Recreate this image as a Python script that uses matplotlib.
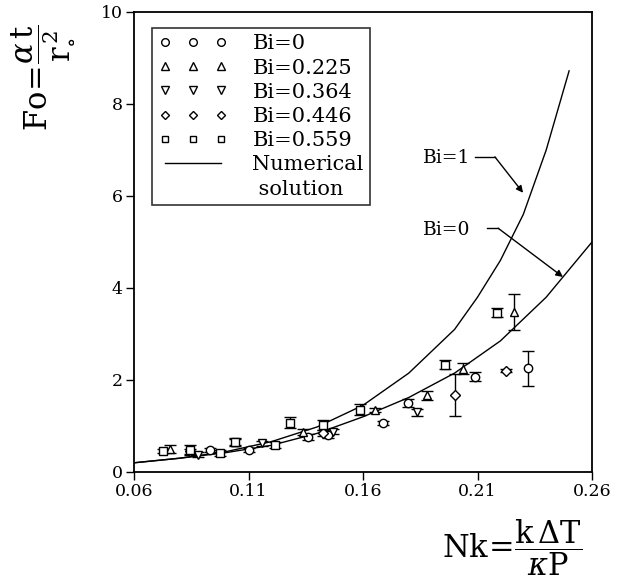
import matplotlib
matplotlib.use("Agg")
import matplotlib.pyplot as plt
from matplotlib.lines import Line2D

plt.rcParams['font.family'] = ['DejaVu Serif']
plt.rcParams['mathtext.fontset'] = 'dejavuserif'

# ---- data ----
bi0_x = [0.0932, 0.110, 0.136, 0.1447, 0.1687, 0.1797, 0.209, 0.232]
bi0_y = [0.48, 0.48, 0.76, 0.80, 1.07, 1.50, 2.07, 2.26]
bi0_e = [0.05, 0.05, 0.06, 0.06, 0.04, 0.08, 0.10, 0.38]

bi225_x = [0.0757, 0.104, 0.1338, 0.1652, 0.188, 0.2037, 0.226]
bi225_y = [0.50, 0.65, 0.87, 1.35, 1.67, 2.24, 3.48]
bi225_e = [0.08, 0.06, 0.06, 0.05, 0.10, 0.12, 0.40]

bi364_x = [0.088, 0.116, 0.147, 0.1836]
bi364_y = [0.38, 0.62, 0.88, 1.30]
bi364_e = [0.06, 0.06, 0.05, 0.08]

bi446_x = [0.0845, 0.1425, 0.2002, 0.2224]
bi446_y = [0.45, 0.85, 1.67, 2.20]
bi446_e = [0.05, 0.06, 0.45, 0.03]

bi559_x = [0.0727, 0.0845, 0.0976, 0.104, 0.1216, 0.128, 0.1425, 0.1587, 0.1958, 0.2185]
bi559_y = [0.46, 0.48, 0.41, 0.65, 0.59, 1.07, 1.02, 1.35, 2.33, 3.46]
bi559_e = [0.05, 0.10, 0.07, 0.08, 0.07, 0.12, 0.10, 0.12, 0.10, 0.10]

num_bi1_x = [0.06, 0.08, 0.10, 0.12, 0.14, 0.16, 0.18, 0.20, 0.21, 0.22, 0.23, 0.24, 0.25]
num_bi1_y = [0.20, 0.30, 0.44, 0.66, 0.98, 1.45, 2.15, 3.10, 3.80, 4.60, 5.60, 7.00, 8.72]

num_bi0_x = [0.06, 0.08, 0.10, 0.12, 0.14, 0.16, 0.18, 0.20, 0.22, 0.24, 0.26]
num_bi0_y = [0.20, 0.30, 0.42, 0.58, 0.84, 1.20, 1.62, 2.15, 2.85, 3.80, 5.00]

series_labels = ['Bi=0', 'Bi=0.225', 'Bi=0.364', 'Bi=0.446', 'Bi=0.559']
x_ticks = [0.06, 0.11, 0.16, 0.21, 0.26]
y_ticks = [0, 2, 4, 6, 8, 10]

fig = plt.figure(figsize=(6.33, 5.86), dpi=100)
ax = fig.add_axes([134/633, 1-472/586, (592-134)/633, (472-12)/586])

series = [
    (bi0_x, bi0_y, bi0_e, 'o'),
    (bi225_x, bi225_y, bi225_e, '^'),
    (bi364_x, bi364_y, bi364_e, 'v'),
    (bi446_x, bi446_y, bi446_e, 'D'),
    (bi559_x, bi559_y, bi559_e, 's'),
]
msizes = {'o': 6, '^': 6, 'v': 6, 'D': 5, 's': 5.5}
handles = []
for (xs, ys, es, m), lab in zip(series, series_labels):
    ax.errorbar(xs, ys, yerr=es, fmt=m, ms=msizes[m], mfc='white', mec='black',
                mew=1.0, ecolor='black', elinewidth=1.0, capsize=4, capthick=1.0,
                zorder=3)
    handles.append(Line2D([], [], marker=m, ls='none', ms=msizes[m] - 0.5,
                          mfc='white', mec='black', mew=1.0, label=lab))

ax.plot(num_bi1_x, num_bi1_y, color='black', lw=1.0, zorder=2)
ax.plot(num_bi0_x, num_bi0_y, color='black', lw=1.0, zorder=2)
handles.append(Line2D([], [], color='black', lw=1.0, label='Numerical'))
handles.append(Line2D([], [], color='none', lw=0, label=' solution'))

ax.set_xlim(0.06, 0.26)
ax.set_ylim(0, 10)
ax.set_xticks(x_ticks)
ax.set_xticklabels([f'{v:.2f}' for v in x_ticks])
ax.set_yticks(y_ticks)
ax.tick_params(direction='out', length=6, width=1.0, labelsize=12.5, pad=2)
for s in ax.spines.values():
    s.set_linewidth(1.3)

leg = ax.legend(handles=handles, loc='upper left', bbox_to_anchor=(0.04, 0.965),
                numpoints=3, handlelength=3.3, handletextpad=1.2, fontsize=15,
                frameon=True, fancybox=False, edgecolor='black', borderpad=0.3,
                labelspacing=0.25, borderaxespad=0.0)
leg.get_frame().set_linewidth(1.2)

# annotations
ax.text(0.1862, 6.83, 'Bi=1', fontsize=13.5, va='center', ha='left')
ax.plot([0.2089, 0.2176], [6.85, 6.85], color='black', lw=1.0)
ax.annotate('', xy=(0.2299, 6.07), xytext=(0.2176, 6.85),
            arrowprops=dict(arrowstyle='-|>', color='black', lw=1.0,
                            mutation_scale=10, shrinkA=0, shrinkB=0))
ax.text(0.1862, 5.26, 'Bi=0', fontsize=13.5, va='center', ha='left')
ax.plot([0.2141, 0.2190], [5.30, 5.30], color='black', lw=1.0)
ax.annotate('', xy=(0.2473, 4.24), xytext=(0.2190, 5.30),
            arrowprops=dict(arrowstyle='-|>', color='black', lw=1.0,
                            mutation_scale=10, shrinkA=0, shrinkB=0))

fig.text(42/633, 1-78/586, r'$\mathrm{Fo}\!=\!\dfrac{\alpha\,\mathrm{t}}{\mathrm{r}_{\circ}^{\,2}}$',
         rotation=90, ha='center', va='center', fontsize=22)
fig.text(512/633, 1-548/586, r'$\mathrm{Nk}\!=\!\dfrac{\mathrm{k}\,\Delta\mathrm{T}}{\kappa\mathrm{P}}$',
         ha='center', va='center', fontsize=22)

fig.savefig('out.png', dpi=100)
